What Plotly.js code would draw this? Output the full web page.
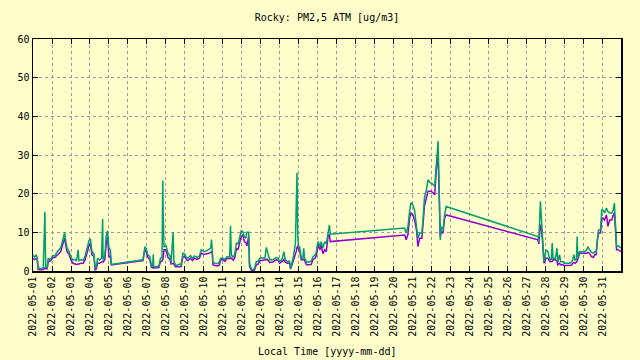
<!DOCTYPE html>
<html>
<head>
<meta charset="utf-8">
<script src="https://cdn.plot.ly/plotly-3.0.1.min.js"></script>
<style>
html,body{margin:0;padding:0;background:#ffffcc;}
#chart{width:640px;height:360px;}
</style>
</head>
<body>
<div id="chart"></div>
<script>
// Timestamps (local time)
const times = [
"2022-05-01 00:00","2022-05-01 02:00","2022-05-01 04:00","2022-05-01 05:15","2022-05-01 06:30","2022-05-01 08:30","2022-05-01 11:00","2022-05-01 13:00","2022-05-01 15:00","2022-05-01 15:20",
"2022-05-01 16:00","2022-05-01 18:00","2022-05-01 19:10","2022-05-01 21:00","2022-05-01 23:00","2022-05-02 01:00","2022-05-02 03:30","2022-05-02 06:00","2022-05-02 08:30","2022-05-02 11:00",
"2022-05-02 13:00","2022-05-02 15:00","2022-05-02 16:00","2022-05-02 17:30","2022-05-02 19:00","2022-05-02 21:30","2022-05-03 00:00","2022-05-03 02:30","2022-05-03 05:00","2022-05-03 07:00",
"2022-05-03 09:00","2022-05-03 10:00","2022-05-03 13:00","2022-05-03 15:30","2022-05-03 18:00","2022-05-03 20:30","2022-05-03 23:00","2022-05-04 00:30","2022-05-04 02:30","2022-05-04 05:00",
"2022-05-04 06:30","2022-05-04 08:00","2022-05-04 09:30","2022-05-04 12:00","2022-05-04 14:30","2022-05-04 16:00","2022-05-04 16:30","2022-05-04 18:45","2022-05-04 20:30","2022-05-04 22:00",
"2022-05-05 00:00","2022-05-05 01:45","2022-05-05 03:00","2022-05-06 19:00","2022-05-06 20:30","2022-05-06 21:30","2022-05-06 23:00","2022-05-07 01:00","2022-05-07 03:30","2022-05-07 05:30",
"2022-05-07 07:00","2022-05-07 08:00","2022-05-07 08:30","2022-05-07 12:00","2022-05-07 15:00","2022-05-07 17:00","2022-05-07 19:00","2022-05-07 20:00","2022-05-07 20:30","2022-05-07 21:30",
"2022-05-08 00:00","2022-05-08 02:30","2022-05-08 05:00","2022-05-08 06:30","2022-05-08 09:00","2022-05-08 10:00","2022-05-08 12:00","2022-05-08 14:30","2022-05-08 17:00","2022-05-08 19:00",
"2022-05-08 21:30","2022-05-09 00:00","2022-05-09 01:45","2022-05-09 03:30","2022-05-09 07:00","2022-05-09 09:30","2022-05-09 12:00","2022-05-09 15:30","2022-05-09 18:30","2022-05-09 20:30",
"2022-05-10 00:00","2022-05-10 03:00","2022-05-10 06:00","2022-05-10 08:30","2022-05-10 09:30","2022-05-10 10:30","2022-05-10 11:15","2022-05-10 13:30","2022-05-10 17:00","2022-05-10 19:30",
"2022-05-10 21:00","2022-05-11 00:00","2022-05-11 02:30","2022-05-11 05:00","2022-05-11 08:30","2022-05-11 09:30","2022-05-11 10:30","2022-05-11 13:00","2022-05-11 15:00","2022-05-11 17:00",
"2022-05-11 19:00","2022-05-11 21:30","2022-05-11 23:00","2022-05-12 01:00","2022-05-12 03:00","2022-05-12 05:00","2022-05-12 06:15","2022-05-12 08:30","2022-05-12 09:30","2022-05-12 12:00",
"2022-05-12 14:30","2022-05-12 16:00","2022-05-12 18:00","2022-05-12 20:30","2022-05-12 22:30","2022-05-13 01:00","2022-05-13 05:00","2022-05-13 06:45","2022-05-13 08:00","2022-05-13 11:00",
"2022-05-13 13:00","2022-05-13 15:00","2022-05-13 19:00","2022-05-13 21:30","2022-05-13 23:30","2022-05-14 02:30","2022-05-14 05:00","2022-05-14 06:30","2022-05-14 09:30","2022-05-14 12:00",
"2022-05-14 13:30","2022-05-14 15:00","2022-05-14 17:00","2022-05-14 19:30","2022-05-14 20:30","2022-05-14 21:30","2022-05-14 22:30","2022-05-14 23:15","2022-05-15 01:00","2022-05-15 03:00",
"2022-05-15 05:00","2022-05-15 06:00","2022-05-15 07:00","2022-05-15 09:30","2022-05-15 12:00","2022-05-15 15:30","2022-05-15 17:45","2022-05-15 20:30","2022-05-15 22:00","2022-05-16 00:00",
"2022-05-16 02:30","2022-05-16 04:00","2022-05-16 06:15","2022-05-16 08:30","2022-05-16 10:30","2022-05-16 12:45","2022-05-16 14:30","2022-05-16 15:30","2022-05-20 13:30","2022-05-20 15:30",
"2022-05-20 17:45","2022-05-20 19:45","2022-05-20 21:30","2022-05-21 00:00","2022-05-21 02:00","2022-05-21 04:30","2022-05-21 06:15","2022-05-21 08:30","2022-05-21 11:15","2022-05-21 12:45",
"2022-05-21 14:30","2022-05-21 17:00","2022-05-21 19:00","2022-05-21 21:00","2022-05-21 23:00","2022-05-22 01:00","2022-05-22 03:30","2022-05-22 05:30","2022-05-22 06:45","2022-05-22 07:45",
"2022-05-22 09:00","2022-05-22 10:30","2022-05-22 11:45","2022-05-22 14:00","2022-05-22 16:00","2022-05-22 18:00","2022-05-27 14:00","2022-05-27 15:00","2022-05-27 17:00","2022-05-27 18:30",
"2022-05-27 20:15","2022-05-27 21:30","2022-05-28 00:00","2022-05-28 02:30","2022-05-28 05:00","2022-05-28 06:45","2022-05-28 08:00","2022-05-28 09:00","2022-05-28 12:00","2022-05-28 14:00",
"2022-05-28 15:00","2022-05-28 17:15","2022-05-28 18:30","2022-05-28 21:30","2022-05-28 23:00","2022-05-29 02:30","2022-05-29 06:00","2022-05-29 08:00","2022-05-29 10:00","2022-05-29 11:15",
"2022-05-29 12:45","2022-05-29 14:30","2022-05-29 15:30","2022-05-29 16:15","2022-05-29 18:30","2022-05-29 21:30","2022-05-30 00:45","2022-05-30 03:30","2022-05-30 05:00","2022-05-30 07:00",
"2022-05-30 09:30","2022-05-30 12:00","2022-05-30 13:30","2022-05-30 15:30","2022-05-30 17:00","2022-05-30 18:30","2022-05-30 21:00","2022-05-30 22:30","2022-05-31 00:00","2022-05-31 02:00",
"2022-05-31 04:30","2022-05-31 06:15","2022-05-31 08:30","2022-05-31 11:15","2022-05-31 13:00","2022-05-31 14:30","2022-05-31 16:00","2022-05-31 17:15","2022-05-31 19:00","2022-05-31 23:00"
];

// Sensor channel drawn in teal (on top)
const pmTeal = [
4.0,3.6,4.2,3.5,1.0,0.6,0.7,0.8,15.3,10.3,
1.0,1.0,3.3,3.0,3.3,4.0,3.9,4.8,5.5,6.0,
7.5,9.0,10.0,7.5,5.9,5.0,3.6,2.8,3.0,2.6,
5.5,2.7,2.9,2.7,4.0,6.0,8.0,8.3,5.0,4.5,
0.7,1.0,3.3,2.8,3.3,13.5,3.0,4.0,9.0,10.4,
5.9,5.5,1.7,2.9,5.5,6.3,5.8,4.2,3.8,1.6,
1.1,4.3,1.2,1.1,1.3,3.3,3.5,23.4,15.0,6.3,
6.5,4.6,4.0,2.4,10.1,2.5,1.6,1.5,1.8,1.6,
4.6,4.3,3.5,3.3,4.0,3.3,3.9,3.5,4.0,5.5,
5.0,5.2,5.5,6.0,8.1,5.5,2.4,2.0,1.9,2.2,
3.3,3.3,3.0,3.7,3.7,11.7,4.2,3.5,4.5,7.2,
7.0,9.0,10.4,10.2,8.9,8.5,10.0,10.0,2.0,0.4,
0.4,0.8,2.4,2.5,3.3,3.4,3.3,6.1,5.0,2.9,
3.0,2.9,3.5,3.4,2.4,3.0,5.0,3.0,2.4,2.6,
0.7,2.0,3.7,7.2,16.7,25.4,9.0,6.8,6.0,3.3,
3.5,5.9,3.3,2.4,2.3,2.5,3.7,4.2,5.0,7.6,
6.5,7.6,6.0,7.6,7.0,10.6,11.9,9.5,11.1,9.8,
11.5,15.4,17.7,17.0,15.8,11.5,8.5,9.8,9.8,13.2,
18.9,21.0,23.6,23.0,22.8,22.5,21.9,27.1,31.4,33.6,
21.9,8.0,11.5,10.6,14.5,16.7,8.9,7.6,18.0,12.4,
7.2,2.4,5.5,5.0,2.9,3.0,7.2,3.3,3.3,5.9,
2.4,4.2,2.4,2.4,2.0,2.0,2.0,2.2,2.9,4.2,
2.8,2.9,8.9,3.7,5.0,5.0,5.0,5.5,6.3,5.5,
4.8,4.6,5.0,5.0,8.9,10.6,10.6,15.8,15.8,15.0,
16.3,15.4,15.0,15.0,15.8,17.6,11.5,6.3,6.5,6.0
];

// Sensor channel drawn in purple (underneath)
const pmPurple = [
3.2,3.0,3.2,3.0,0.4,0.3,0.3,0.4,0.6,0.8,
0.6,0.6,2.5,2.5,2.8,3.5,3.5,4.0,4.5,5.0,
6.5,7.8,8.5,6.5,5.0,4.3,2.8,2.0,1.8,1.7,
1.8,1.8,2.0,2.0,3.0,5.0,6.8,7.0,4.2,3.8,
0.3,0.5,2.0,2.0,2.2,2.5,2.2,3.0,7.0,8.9,
3.7,3.7,1.6,2.7,4.8,5.5,5.0,3.5,3.0,1.0,
0.8,1.0,0.8,0.8,0.9,2.4,2.6,3.0,3.5,5.5,
5.5,3.5,3.0,1.8,2.0,1.8,1.1,1.1,1.2,1.1,
3.7,3.8,2.9,2.7,3.3,2.7,3.3,3.0,3.4,4.6,
4.3,4.4,4.6,4.8,5.0,4.5,1.6,1.4,1.3,1.5,
2.9,2.9,2.5,3.3,3.2,3.5,3.3,2.8,3.5,5.9,
5.5,7.8,8.9,9.4,7.6,7.3,6.5,9.0,1.3,0.1,
0.1,0.3,1.6,1.8,2.7,2.7,2.8,3.0,3.0,2.2,
2.2,2.3,2.9,2.8,2.0,2.4,3.0,2.3,2.0,2.0,
0.5,1.5,2.9,4.0,5.0,6.0,6.5,5.9,5.0,2.9,
2.9,3.0,2.8,1.6,1.6,1.7,3.0,3.3,4.0,6.8,
5.5,6.8,4.5,5.5,5.0,8.9,9.5,7.6,9.3,8.1,
9.5,13.7,15.0,14.5,13.2,10.6,6.3,8.5,8.5,11.5,
16.7,18.9,20.6,20.6,20.6,20.3,19.7,26.2,28.0,29.7,
21.0,8.9,10.2,9.8,13.7,14.5,8.05,7.0,12.0,10.6,
6.3,2.0,3.3,3.3,2.4,2.4,2.5,2.9,2.9,2.5,
1.6,2.0,1.6,1.6,1.4,1.4,1.4,1.5,2.0,2.2,
2.0,2.2,2.5,3.0,4.6,4.6,4.6,4.6,4.8,4.6,
3.7,3.5,4.2,4.2,8.05,9.8,9.8,13.7,13.7,13.2,
14.5,11.5,13.2,13.2,14.5,15.0,10.0,5.5,5.5,5.0
];

// Axis ticks
const xTickDays = [
"2022-05-01","2022-05-02","2022-05-03","2022-05-04","2022-05-05","2022-05-06","2022-05-07","2022-05-08",
"2022-05-09","2022-05-10","2022-05-11","2022-05-12","2022-05-13","2022-05-14","2022-05-15","2022-05-16",
"2022-05-17","2022-05-18","2022-05-19","2022-05-20","2022-05-21","2022-05-22","2022-05-23","2022-05-24",
"2022-05-25","2022-05-26","2022-05-27","2022-05-28","2022-05-29","2022-05-30","2022-05-31"
];
const yTicks = [0, 10, 20, 30, 40, 50, 60];
const titleText = "Rocky: PM2,5 ATM [ug/m3]";
const xTitleText = "Local Time [yyyy-mm-dd]";

const FONT = "DejaVu Sans Mono, monospace";

const traces = [
  {x: times, y: pmPurple, type: "scatter", mode: "lines",
   line: {color: "#9400d3", width: 1.5}, showlegend: false, hoverinfo: "skip"},
  {x: times, y: pmTeal, type: "scatter", mode: "lines",
   line: {color: "#009e73", width: 1.5}, showlegend: false, hoverinfo: "skip"}
];

const layout = {
  width: 640, height: 360,
  paper_bgcolor: "#ffffcc", plot_bgcolor: "#ffffcc",
  margin: {l: 33, r: 19, t: 39, b: 89, pad: 0},
  font: {family: FONT, size: 10, color: "#000"},
  title: {text: titleText, x: 0.5, xref: "paper", y: 1 - 17/360, yref: "container",
          yanchor: "middle", xanchor: "center", font: {family: FONT, size: 10, color: "#000"}},
  xaxis: {
    type: "date",
    range: ["2022-05-01 00:00", "2022-05-31 22:50"],
    tickvals: xTickDays, ticktext: xTickDays,
    tickangle: -90, ticks: "inside", ticklen: 5, tickcolor: "#000",
    showline: true, linecolor: "#000", linewidth: 1.5, mirror: "ticks",
    showgrid: true, gridcolor: "#999999", griddash: "3px,3px", gridwidth: 1,
    zeroline: false, tickfont: {family: FONT, size: 10, color: "#000"},
    automargin: false
  },
  yaxis: {
    range: [0, 60], tickvals: yTicks, ticktext: yTicks.map(String),
    ticks: "inside", ticklen: 5, tickcolor: "#000",
    showline: true, linecolor: "#000", linewidth: 1.5, mirror: "ticks",
    showgrid: true, gridcolor: "#999999", griddash: "3px,3px", gridwidth: 1,
    zeroline: false, tickfont: {family: FONT, size: 10, color: "#000"},
    automargin: false
  },
  annotations: [{
    text: xTitleText, xref: "paper", yref: "paper", x: 0.5, y: -(351 - 271)/232,
    xanchor: "center", yanchor: "middle", showarrow: false,
    font: {family: FONT, size: 10, color: "#000"}
  }]
};

Plotly.newPlot("chart", traces, layout, {staticPlot: true, displayModeBar: false});
</script>
</body>
</html>
